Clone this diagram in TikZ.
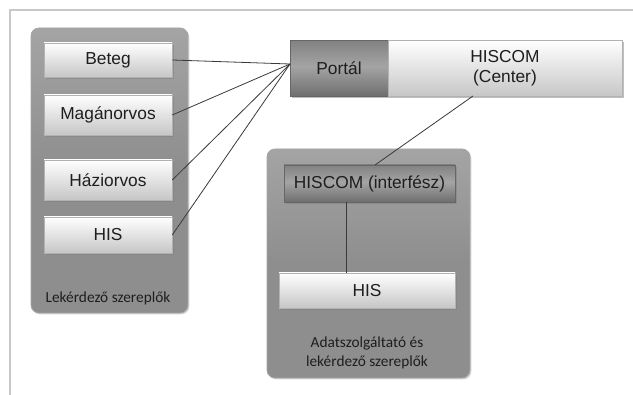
\documentclass[tikz,border=0pt]{standalone}
\usepackage{fontspec}
\setmainfont{Liberation Sans}
\newfontfamily\calfont{Carlito}
\usetikzlibrary{shadows,calc}
\definecolor{framegray}{HTML}{C8C8C8}
\definecolor{groupfill}{HTML}{8E8E8E}
\definecolor{grouptop}{HTML}{A4A4A4}
\definecolor{darktop}{HTML}{828282}
\definecolor{darkmid}{HTML}{A4A4A4}
\definecolor{darkbot}{HTML}{6E6E6E}
\definecolor{lightbot}{HTML}{C6C6C6}
\definecolor{txt}{HTML}{1E1E1E}
\definecolor{wire}{HTML}{3A3A3A}
% dark key boxes: darker at top and bottom, lighter band in the middle
\pgfdeclareverticalshading{darkband}{100bp}{%
  color(0bp)=(darkbot); color(25bp)=(darkbot); color(52bp)=(darkmid);
  color(75bp)=(darktop); color(100bp)=(darktop)}
\tikzset{
  grouppanel/.style={draw=gray!70, line width=0.6pt, rounded corners=6pt,
    top color=grouptop, bottom color=groupfill, middle color=groupfill,
    drop shadow={shadow xshift=1pt, shadow yshift=-1pt, opacity=0.35}},
  lightbox/.style={draw=gray!60, line width=0.4pt, top color=white, bottom color=lightbot,
    drop shadow={shadow xshift=1.2pt, shadow yshift=-1.2pt, opacity=0.5},
    text=txt, font=\fontsize{13}{15}\selectfont, align=center, inner sep=0pt},
  darkbox/.style={draw=gray!80!black, line width=0.4pt, shading=darkband,
    drop shadow={shadow xshift=1.2pt, shadow yshift=-1.2pt, opacity=0.5},
    text=txt, font=\fontsize{13}{15}\selectfont, align=center, inner sep=0pt},
  grouplabel/.style={text=txt, font=\calfont\fontsize{11.5}{14}\selectfont, align=center},
  wireline/.style={draw=wire, line width=0.6pt}
}
\begin{document}
\begin{tikzpicture}[x=0.75pt, y=-0.75pt]
  \useasboundingbox (0,0) rectangle (633,395);
  \fill[white] (0,0) rectangle (633,395);
  % outer frame, open towards the right and the bottom
  \draw[framegray, line width=1.5pt] (640,10) -- (10,10) -- (10,400);

  % left group: querying actors
  \node[grouppanel, minimum width=117.75pt, minimum height=213.75pt] (leftgrp) at (109.5,170.5) {};
  \node[lightbox, minimum width=96pt, minimum height=25.5pt] (beteg) at (108,60) {Beteg};
  \node[lightbox, minimum width=96pt, minimum height=30pt] (magan) at (108,115) {Magánorvos};
  \node[lightbox, minimum width=96pt, minimum height=30pt] (hazi) at (108,180) {Háziorvos};
  \node[lightbox, minimum width=96pt, minimum height=27pt] (hisl) at (108,235) {HIS};
  \node[grouplabel] (leftlbl) at (108,298) {Lekérdező szereplők};

  % central portal and HISCOM center
  \node[darkbox, minimum width=73.5pt, minimum height=42pt] (portal) at (339,68.5) {Portál};
  \node[lightbox, minimum width=175.5pt, minimum height=42pt] (center) at (505,68.5) {HISCOM\\(Center)};

  % right group: data providers and querying actors
  \node[grouppanel, minimum width=152.25pt, minimum height=171.75pt] (rightgrp) at (368.5,263.5) {};
  \node[darkbox, minimum width=128.25pt, minimum height=27.75pt] (iface) at (369.5,183.5) {HISCOM (interfész)};
  \node[lightbox, minimum width=132pt, minimum height=26.25pt] (hisr) at (367,290.5) {HIS};
  \node[grouplabel] (rightlbl) at (367,353) {Adatszolgáltató és\\lekérdező szereplők};

  % connectors
  \coordinate (hub) at (290,64);
  \coordinate (cdown) at (473,96);
  \coordinate (iup) at (375,165);
  \draw[wireline] (beteg.east) -- (hub);
  \draw[wireline] (magan.east) -- (hub);
  \draw[wireline] (hazi.east) -- (hub);
  \draw[wireline] (hisl.east) -- (hub);
  \draw[wireline] (cdown) -- (iup);
  \draw[wireline] (iface.south -| 346,0) -- (hisr.north -| 346,0);
\end{tikzpicture}
\end{document}
